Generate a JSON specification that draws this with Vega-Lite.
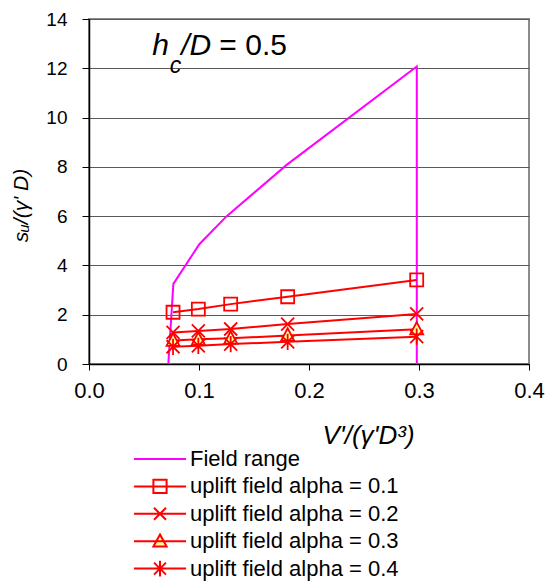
{
  "$schema": "https://vega.github.io/schema/vega-lite/v6.json",
  "autosize": {"type": "none"},
  "width": 440,
  "height": 345,
  "padding": {"left": 89, "top": 19, "right": 25, "bottom": 219},
  "background": "white",
  "config": {
    "font": "Liberation Sans",
    "view": {"stroke": "#8c8c8c", "strokeWidth": 2},
    "axis": {"domainColor": "black", "tickColor": "black", "labelColor": "black", "titleColor": "black", "labelFont": "Liberation Sans", "titleFont": "Liberation Sans", "titleFontWeight": "normal", "titleFontStyle": "italic", "labelFlush": false, "labelOverlap": false}
  },
  "datasets": {
    "annot": [
      {"part": "h", "ax": 0.0575, "ay": 12.54},
      {"part": "c", "ax": 0.0733, "ay": 11.8},
      {"part": "/D", "ax": 0.0838, "ay": 12.54},
      {"part": "= 0.5", "ax": 0.1185, "ay": 12.54}
    ]
  },
  "data": {"values": [
    {"series": "Field range", "o": 1, "v": 0.0721, "s": 0},
    {"series": "Field range", "o": 2, "v": 0.0767, "s": 3.25},
    {"series": "Field range", "o": 3, "v": 0.1003, "s": 4.86},
    {"series": "Field range", "o": 4, "v": 0.1252, "s": 6.0},
    {"series": "Field range", "o": 5, "v": 0.1797, "s": 8.08},
    {"series": "Field range", "o": 6, "v": 0.298, "s": 12.07},
    {"series": "Field range", "o": 7, "v": 0.298, "s": 0},
    {"series": "uplift field alpha = 0.1", "o": 1, "v": 0.0764, "s": 2.1},
    {"series": "uplift field alpha = 0.1", "o": 2, "v": 0.0994, "s": 2.23},
    {"series": "uplift field alpha = 0.1", "o": 3, "v": 0.1288, "s": 2.43},
    {"series": "uplift field alpha = 0.1", "o": 4, "v": 0.1806, "s": 2.73},
    {"series": "uplift field alpha = 0.1", "o": 5, "v": 0.2979, "s": 3.41},
    {"series": "uplift field alpha = 0.2", "o": 1, "v": 0.0764, "s": 1.28},
    {"series": "uplift field alpha = 0.2", "o": 2, "v": 0.0994, "s": 1.34},
    {"series": "uplift field alpha = 0.2", "o": 3, "v": 0.1288, "s": 1.42},
    {"series": "uplift field alpha = 0.2", "o": 4, "v": 0.1806, "s": 1.62},
    {"series": "uplift field alpha = 0.2", "o": 5, "v": 0.2979, "s": 2.03},
    {"series": "uplift field alpha = 0.3", "o": 1, "v": 0.0764, "s": 0.95},
    {"series": "uplift field alpha = 0.3", "o": 2, "v": 0.0994, "s": 1.0},
    {"series": "uplift field alpha = 0.3", "o": 3, "v": 0.1288, "s": 1.04},
    {"series": "uplift field alpha = 0.3", "o": 4, "v": 0.1806, "s": 1.16},
    {"series": "uplift field alpha = 0.3", "o": 5, "v": 0.2979, "s": 1.41},
    {"series": "uplift field alpha = 0.4", "o": 1, "v": 0.0764, "s": 0.7},
    {"series": "uplift field alpha = 0.4", "o": 2, "v": 0.0994, "s": 0.74},
    {"series": "uplift field alpha = 0.4", "o": 3, "v": 0.1288, "s": 0.81},
    {"series": "uplift field alpha = 0.4", "o": 4, "v": 0.1806, "s": 0.9},
    {"series": "uplift field alpha = 0.4", "o": 5, "v": 0.2979, "s": 1.11}
  ]},
  "layer": [
    {
      "mark": {"type": "line", "strokeWidth": 2, "clip": false},
      "encoding": {
        "x": {"field": "v", "type": "quantitative", "scale": {"domain": [0, 0.4], "nice": false, "zero": false},
          "axis": {"title": "V'/(γ'D³)", "values": [0, 0.1, 0.2, 0.3, 0.4], "format": ".1f", "grid": false, "tickSize": 6, "labelFontSize": 22, "labelPadding": 10, "titleFontSize": 26, "titleX": 279, "titleY": 79, "titleBaseline": "alphabetic", "titleAlign": "center", "domainWidth": 1.5, "tickWidth": 1}},
        "y": {"field": "s", "type": "quantitative", "scale": {"domain": [0, 14], "nice": false},
          "axis": {"title": "sᵤ/(γ' D)", "values": [0, 2, 4, 6, 8, 10, 12, 14], "grid": true, "gridColor": "#5a5a5a", "gridWidth": 1, "tickSize": 7, "labelFontSize": 19, "labelPadding": 15, "titleFontSize": 21, "titleX": -58, "titleY": 186, "domainWidth": 1.5, "tickWidth": 1}},
        "order": {"field": "o", "type": "quantitative"},
        "color": {"field": "series", "type": "nominal",
          "scale": {"domain": ["Field range", "uplift field alpha = 0.1", "uplift field alpha = 0.2", "uplift field alpha = 0.3", "uplift field alpha = 0.4"], "range": ["#FF00FF", "#FF0000", "#FF0000", "#FF0000", "#FF0000"]},
          "legend": {
            "orient": "none", "legendX": 58, "legendY": 427, "title": null, "padding": 0,
            "labelFont": "Liberation Sans", "labelFontSize": 22, "labelColor": "black", "labelOffset": 17, "labelLimit": 0,
            "symbolSize": 576, "rowPadding": 3.4,
            "encode": {"symbols": {"update": {
              "shape": {"signal": "datum.value === 'Field range' ? 'M-2.17,0H2.17' : datum.value === 'uplift field alpha = 0.1' ? 'M-2.17,0H2.17M-0.55,-0.55H0.55V0.55H-0.55Z' : datum.value === 'uplift field alpha = 0.2' ? 'M-2.17,0H2.17M-0.5,-0.5L0.5,0.5M-0.5,0.5L0.5,-0.5' : datum.value === 'uplift field alpha = 0.3' ? 'M-2.17,0H2.17M0,-0.55L0.55,0.45H-0.55Z' : 'M-2.17,0H2.17M-0.5,-0.5L0.5,0.5M-0.5,0.5L0.5,-0.5M0,-0.65V0.65'"},
              "fill": {"signal": "datum.value === 'uplift field alpha = 0.3' ? '#FFFF99' : 'transparent'"},
              "strokeWidth": {"value": 2}
            }}}
          }
        }
      }
    },
    {
      "transform": [{"filter": "datum.series !== 'Field range'"}],
      "mark": {"type": "point", "stroke": "#FF0000", "strokeWidth": 1.8, "size": 169, "opacity": 1, "clip": false},
      "encoding": {
        "x": {"field": "v", "type": "quantitative"},
        "y": {"field": "s", "type": "quantitative"},
        "shape": {"field": "series", "type": "nominal", "legend": null,
          "scale": {"domain": ["uplift field alpha = 0.1", "uplift field alpha = 0.2", "uplift field alpha = 0.3", "uplift field alpha = 0.4"],
            "range": ["M-1,-1H1V1H-1Z", "M-1,-1L1,1M-1,1L1,-1", "M0,-1.1L1,0.8H-1Z", "M-1,-1L1,1M-1,1L1,-1M0,-1.25V1.25"]}},
        "fill": {"field": "series", "type": "nominal", "legend": null,
          "scale": {"domain": ["uplift field alpha = 0.1", "uplift field alpha = 0.2", "uplift field alpha = 0.3", "uplift field alpha = 0.4"],
            "range": ["transparent", "transparent", "#FFFF99", "transparent"]}}
      }
    },
    {
      "data": {"name": "annot"},
      "transform": [{"filter": "datum.part === 'h' || datum.part === '/D'"}],
      "mark": {"type": "text", "font": "Liberation Sans", "fontSize": 30, "fontStyle": "italic", "align": "left", "baseline": "alphabetic", "fill": "black"},
      "encoding": {"x": {"field": "ax", "type": "quantitative"}, "y": {"field": "ay", "type": "quantitative"}, "text": {"field": "part", "type": "nominal"}}
    },
    {
      "data": {"name": "annot"},
      "transform": [{"filter": "datum.part === 'c'"}],
      "mark": {"type": "text", "font": "Liberation Sans", "fontSize": 23, "fontStyle": "italic", "align": "left", "baseline": "alphabetic", "fill": "black"},
      "encoding": {"x": {"field": "ax", "type": "quantitative"}, "y": {"field": "ay", "type": "quantitative"}, "text": {"field": "part", "type": "nominal"}}
    },
    {
      "data": {"name": "annot"},
      "transform": [{"filter": "datum.part === '= 0.5'"}],
      "mark": {"type": "text", "font": "Liberation Sans", "fontSize": 30, "align": "left", "baseline": "alphabetic", "fill": "black"},
      "encoding": {"x": {"field": "ax", "type": "quantitative"}, "y": {"field": "ay", "type": "quantitative"}, "text": {"field": "part", "type": "nominal"}}
    }
  ]
}
